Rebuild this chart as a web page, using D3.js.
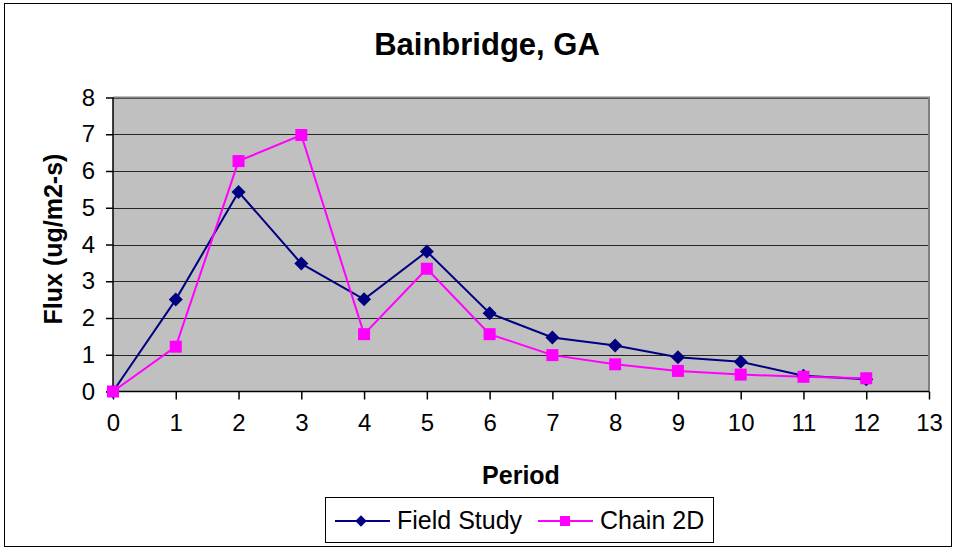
<!DOCTYPE html>
<html><head><meta charset="utf-8">
<script src="https://cdn.jsdelivr.net/npm/d3@7"></script>
<style>body{margin:0;background:#fff}svg{display:block;font-family:Arial,"Liberation Sans",sans-serif}</style>
</head><body><svg id="c" width="955" height="550"></svg>
<script>
const periods = [0,1,2,3,4,5,6,7,8,9,10,11,12];
const fieldStudy = [0,2.5,5.43,3.48,2.51,3.81,2.13,1.47,1.25,0.93,0.81,0.43,0.33];
const chain2D = [0,1.22,6.27,6.98,1.56,3.34,1.56,0.99,0.74,0.56,0.46,0.40,0.36];
const xTicks = d3.range(0,14);
const yTicks = d3.range(0,9);
const seriesNames = ["Field Study","Chain 2D"];
const colors = ["#000080","#FF00FF"];

const svg = d3.select("#c");
svg.append("rect").attr("x",4.5).attr("y",3.5).attr("width",947).attr("height",543)
  .attr("fill","#fff").attr("stroke","#000").attr("stroke-width",1);

const L=113,R=929,T=97.5,B=391.5;
const x = d3.scaleLinear().domain([0,13]).range([L,R]);
const y = d3.scaleLinear().domain([0,8]).range([B,T]);

svg.append("rect").attr("x",L).attr("y",T).attr("width",R-L).attr("height",B-T)
  .attr("fill","#C0C0C0");
svg.append("g").selectAll("line").data(yTicks.slice(1)).join("line")
  .attr("x1",L).attr("x2",R).attr("y1",d=>Math.round(y(d))+0.5).attr("y2",d=>Math.round(y(d))+0.5)
  .attr("stroke","#000").attr("stroke-width",1).attr("opacity",0.8);
svg.append("path").attr("d",`M${L},${T}H${R}V${B}`).attr("fill","none")
  .attr("stroke","#808080").attr("stroke-width",2);

const xAxis = svg.append("g").attr("transform",`translate(0,${B})`)
  .call(d3.axisBottom(x).tickValues(xTicks).tickSize(8).tickPadding(14).tickFormat(d3.format("d")));
const yAxis = svg.append("g").attr("transform",`translate(${L},0)`)
  .call(d3.axisLeft(y).tickValues(yTicks).tickSize(7).tickPadding(11).tickFormat(d3.format("d")));
[xAxis,yAxis].forEach(a=>{
  a.selectAll("text").attr("font-size",24).attr("fill","#000").attr("font-family","Arial,'Liberation Sans',sans-serif");
  a.select(".domain").attr("stroke","#000").attr("stroke-width",1.5);
  a.selectAll(".tick line").attr("stroke","#000").attr("stroke-width",1.5);
});
yAxis.select(".domain").attr("d",`M0,${T}V${B}`);
xAxis.select(".domain").attr("d",`M${L},0H${R}`);

const data = [fieldStudy, chain2D];
const line = d3.line().x((d,i)=>x(periods[i])).y(d=>y(d));
data.forEach((s,k)=>{
  svg.append("path").datum(s).attr("d",line).attr("fill","none")
    .attr("stroke",colors[k]).attr("stroke-width",2);
});
svg.append("g").selectAll("path").data(fieldStudy).join("path")
  .attr("d",d3.symbol().type(d3.symbolSquare).size(98))
  .attr("transform",(d,i)=>`translate(${x(periods[i])},${y(d)}) rotate(45)`)
  .attr("fill",colors[0]);
svg.append("g").selectAll("path").data(chain2D).join("path")
  .attr("transform",(d,i)=>`translate(${x(periods[i])},${y(d)})`)
  .attr("d",d3.symbol().type(d3.symbolSquare).size(144)).attr("fill",colors[1]);

svg.append("text").attr("x",487).attr("y",55).attr("text-anchor","middle")
  .attr("font-size",31).attr("font-weight","bold").text("Bainbridge, GA");
svg.append("text").attr("x",521).attr("y",484).attr("text-anchor","middle")
  .attr("font-size",25).attr("font-weight","bold").text("Period");
svg.append("text").attr("transform","translate(62,239) rotate(-90)").attr("text-anchor","middle")
  .attr("font-size",25).attr("font-weight","bold").text("Flux (ug/m2-s)");

const lg = svg.append("g");
lg.append("rect").attr("x",325.5).attr("y",497.5).attr("width",388).attr("height",45)
  .attr("fill","#fff").attr("stroke","#000").attr("stroke-width",1);
const legX=[335,538];
seriesNames.forEach((n,k)=>{
  lg.append("line").attr("x1",legX[k]).attr("x2",legX[k]+55).attr("y1",521).attr("y2",521)
    .attr("stroke",colors[k]).attr("stroke-width",2);
  if(k===0){
    lg.append("path").attr("d",d3.symbol().type(d3.symbolSquare).size(64)())
      .attr("transform",`translate(${legX[k]+26},521) rotate(45)`).attr("fill",colors[k]);
  } else {
    lg.append("path").attr("d",d3.symbol().type(d3.symbolSquare).size(100)())
      .attr("transform",`translate(${legX[k]+27},521)`).attr("fill",colors[k]);
  }
  lg.append("text").attr("x",legX[k]+62).attr("y",529).attr("font-size",25).text(n);
});
</script></body></html>
